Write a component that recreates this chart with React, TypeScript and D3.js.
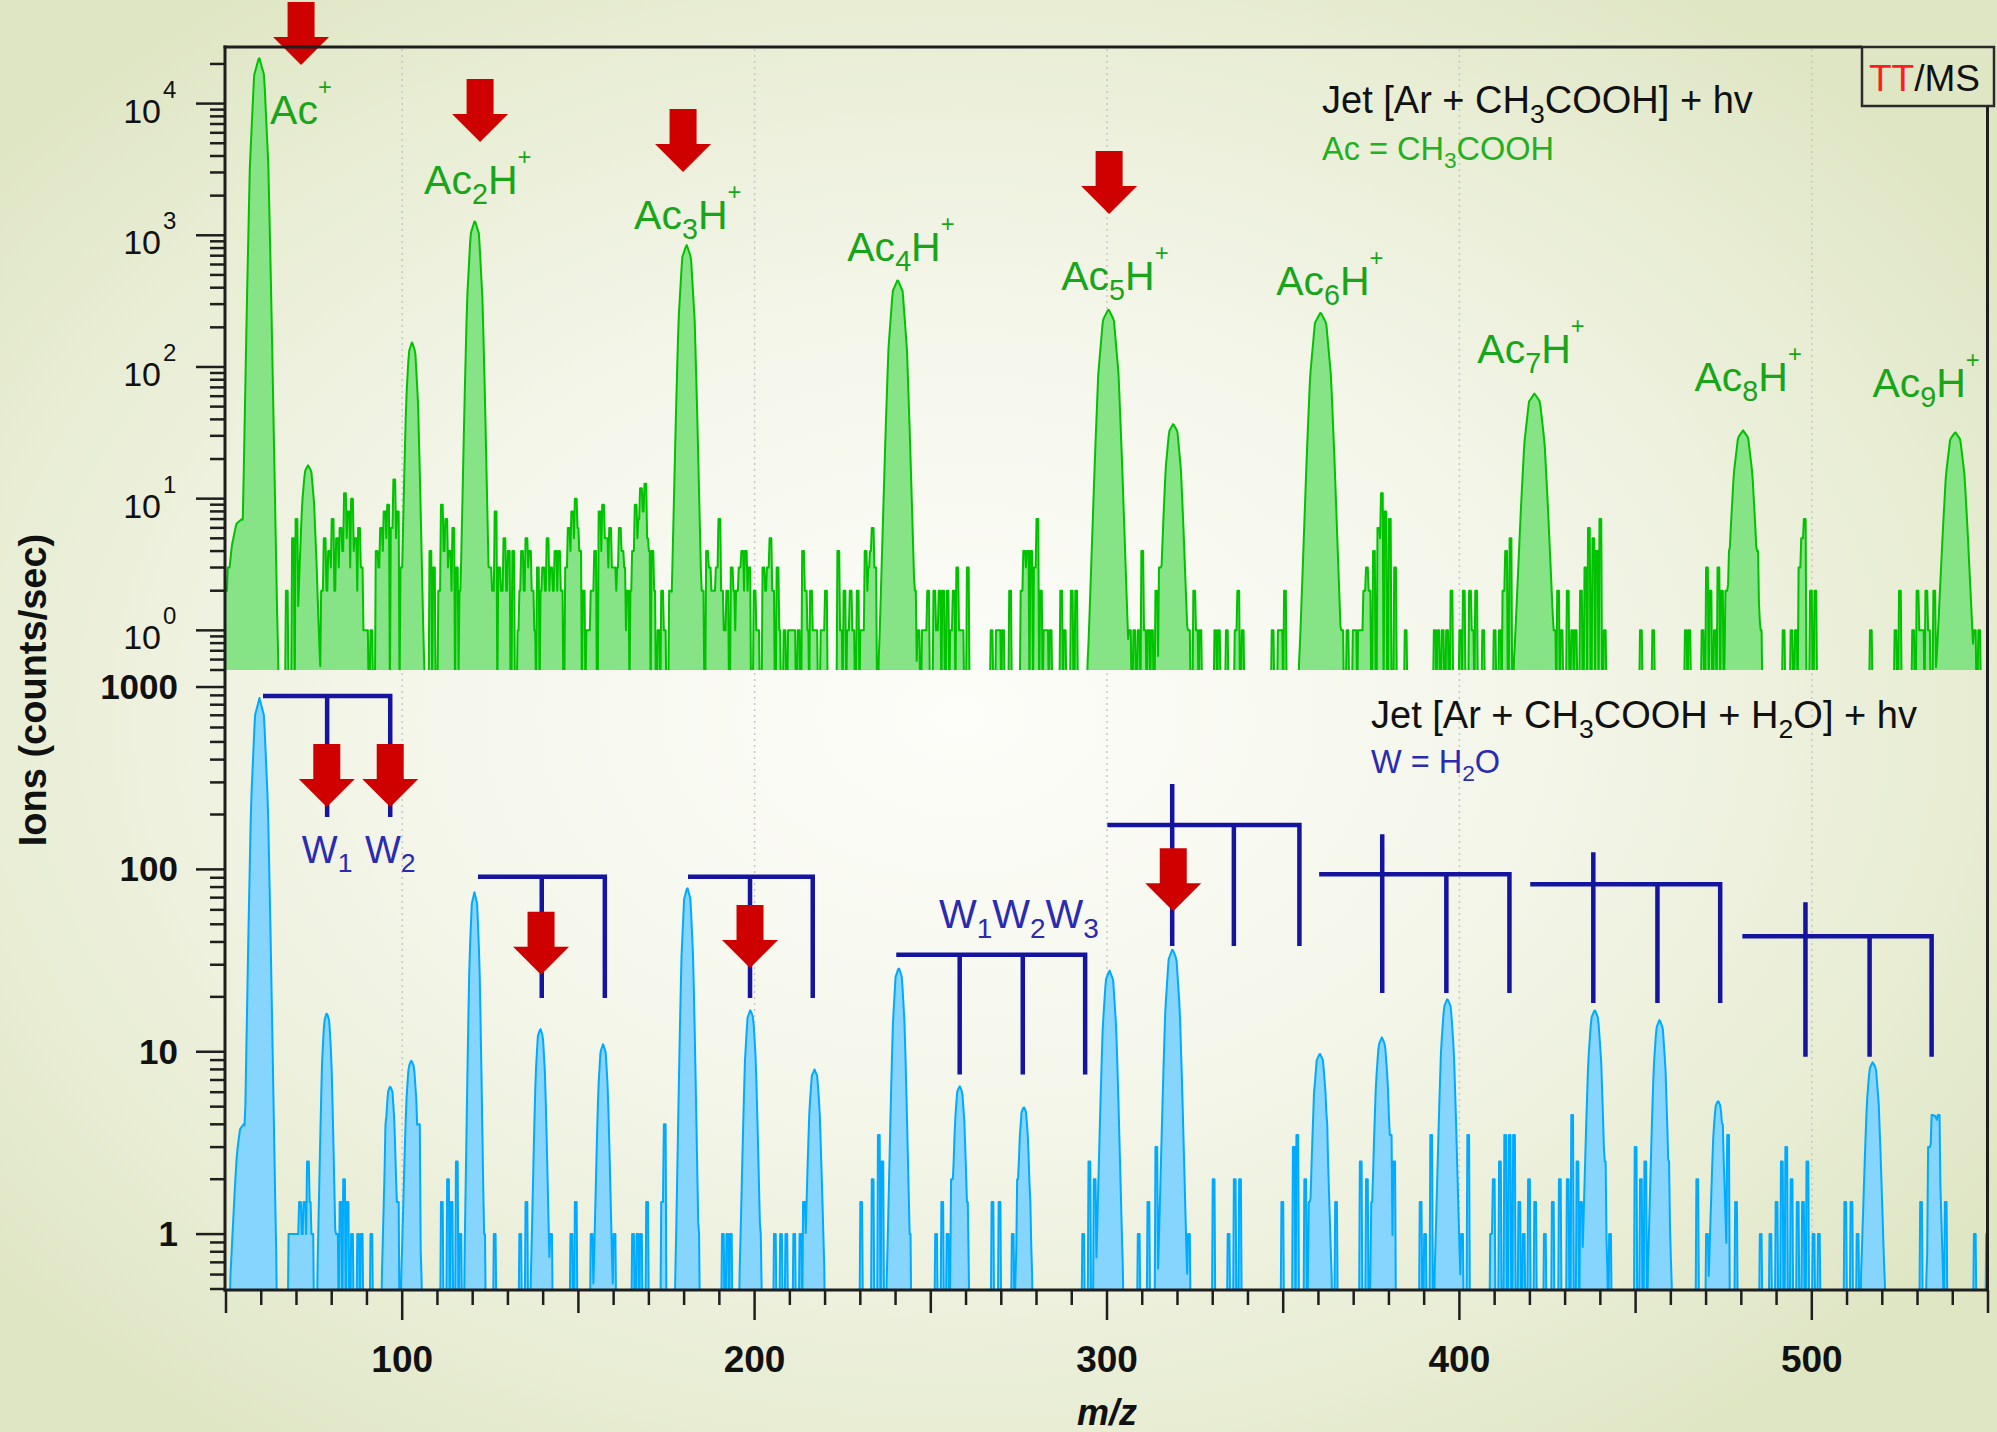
import React from "react";
import * as d3 from "d3";

const WIDTH = 1997;
const HEIGHT = 1432;
const FONT = "'Liberation Sans', Arial, Helvetica, sans-serif";

const mzDomain = [50, 550];
const mzLabelTicks = [100, 200, 300, 400, 500];
const topDecades = [1, 10, 100, 1000, 10000];
const topDecadeExp = ["0", "1", "2", "3", "4"];
const bottomDecades = [1, 10, 100, 1000];
const bottomDecadeLabels = ["1", "10", "100", "1000"];

const peakShapeOffset = [0, 0.26, 0.48, 0.63, 0.76, 0.93, 1];
const peakShapeLevel = [1, 0.97, 0.82, 0.6, 0.38, 0.09, 0];

// Jet [Ar + CH3COOH] + hv : [m/z, counts/sec, half width]
const greenPeaks = [
  [54.5, 7, 6], [59.4, 22600, 5.5], [73.3, 18, 3.5], [102.8, 155, 3.5], [120.6, 1300, 4.6],
  [180.7, 850, 4.8], [240.6, 460, 5.5], [300.4, 275, 6], [318.8, 37, 4.5],
  [360.6, 260, 6.2], [421.3, 63, 6], [480.5, 33, 5.5], [540.7, 32, 5.5],
];
const greenNoise = [
  [50.3, 2], [50.8, 3], [67.3, 2], [68.9, 5], [70.0, 7], [75.4, 3],
  [77.3, 2], [77.8, 1], [78.1, 5], [78.7, 2], [79.2, 4], [79.8, 3], [80.3, 7], [80.9, 2], [81.4, 5], [82.0, 3],
  [82.5, 6], [83.2, 4], [83.8, 11], [84.2, 5], [84.7, 8], [85.3, 3], [85.8, 10], [86.3, 4], [86.8, 5], [87.2, 2],
  [87.7, 6], [88.5, 3], [89.2, 1], [90.1, 1], [91.2, 1],
  [92.8, 4], [93.4, 3], [93.9, 6], [94.5, 4], [95.0, 8], [95.6, 5], [96.1, 9], [96.9, 6], [97.7, 14], [98.2, 5],
  [98.8, 8], [99.7, 3], [108.0, 4], [109.1, 3], [110.5, 2],
  [111.3, 9], [111.9, 4], [112.4, 7], [113.0, 3], [113.5, 4], [114.1, 2], [114.6, 6], [115.6, 3], [116.5, 2],
  [124.9, 3], [125.7, 2], [126.5, 8], [127.6, 3], [128.2, 2], [129.0, 5], [129.7, 2], [130.3, 4], [131.4, 4],
  [133.0, 1], [133.6, 2], [134.1, 4], [134.7, 2], [135.2, 5], [135.8, 3], [136.3, 4], [136.9, 2], [137.4, 1], [138.5, 3],
  [139.5, 2], [140.1, 3], [140.7, 2], [141.2, 5], [141.8, 2], [142.3, 3], [142.9, 2], [143.4, 4], [143.9, 2], [144.5, 4],
  [145.3, 2], [146.5, 3], [147.2, 6], [147.8, 4], [148.3, 8], [148.8, 5], [149.3, 10], [149.8, 6], [150.4, 4], [151.5, 2],
  [152.6, 1], [153.2, 1], [153.7, 2], [154.3, 2], [154.8, 4],
  [155.9, 8], [156.4, 4], [157.0, 9], [157.5, 5], [158.0, 5], [158.6, 3], [159.1, 6], [159.6, 3], [160.2, 3], [160.8, 2],
  [161.3, 3], [161.8, 6], [162.4, 4], [162.9, 3], [163.5, 1], [164.0, 2],
  [165.0, 2], [165.6, 4], [166.2, 9], [166.8, 5], [167.2, 7], [167.8, 12], [168.3, 8], [168.9, 13], [169.5, 5], [170.0, 4],
  [171.1, 4], [171.6, 2], [172.7, 1], [173.8, 2], [174.5, 1], [176.0, 2],
  [185.2, 2], [186.6, 4], [187.2, 3], [188.0, 2], [188.5, 2], [189.2, 3], [189.9, 7], [190.8, 2], [191.6, 1],
  [192.3, 2], [193.4, 3], [193.9, 2], [194.3, 1], [195.0, 2], [195.8, 3], [196.6, 4], [197.0, 2], [197.5, 4], [198.0, 2],
  [198.6, 3], [199.9, 2], [200.5, 1], [201.0, 1],
  [202.6, 3], [203.2, 2], [203.7, 3], [204.0, 1], [204.5, 5], [205.3, 2], [206.4, 3], [207.1, 1],
  [208.6, 1], [209.7, 1], [210.4, 1], [211.3, 1], [212.4, 1], [213.7, 4], [214.6, 2], [215.1, 1], [215.9, 2], [216.8, 1],
  [217.5, 1], [218.9, 1], [219.5, 1], [220.3, 2],
  [223.8, 4], [224.6, 1], [225.4, 2], [226.5, 1], [227.3, 2], [228.1, 1], [229.2, 2], [230.3, 1], [231.0, 1], [231.4, 4],
  [232.0, 2], [232.5, 3], [233.0, 4], [233.5, 6], [234.2, 3],
  [245.5, 2], [246.6, 1], [247.7, 1], [248.5, 1], [249.3, 2], [250.9, 2], [251.7, 1], [252.5, 2], [253.6, 2], [254.7, 2],
  [255.8, 1], [256.6, 2], [257.4, 3], [258.2, 1], [259.1, 1], [260.5, 3],
  [267.2, 1], [268.8, 1], [269.6, 1], [270.5, 1], [272.4, 2],
  [275.8, 2], [276.5, 4], [277.0, 3], [277.5, 4], [278.6, 4], [279.4, 3], [280.3, 7], [281.3, 2], [282.2, 1], [283.0, 1], [284.0, 1],
  [287.0, 2], [288.0, 1], [290.0, 2], [291.3, 2],
  [306.5, 1], [307.7, 1], [309.0, 1], [309.9, 4], [310.8, 1], [311.8, 1], [312.8, 1], [313.9, 2], [315.0, 3], [316.0, 1],
  [322.1, 1], [323.2, 1], [324.8, 2], [325.6, 1], [326.4, 1],
  [330.7, 1], [331.8, 1], [334.0, 1], [336.5, 1], [337.3, 2], [338.4, 1],
  [347.1, 1], [348.7, 1], [349.5, 1], [350.6, 2],
  [365.5, 2], [366.8, 1], [368.2, 1], [369.9, 1], [370.6, 1], [371.5, 1], [372.3, 1], [373.1, 2], [373.7, 3], [374.5, 2],
  [375.8, 4], [376.9, 6], [377.4, 5], [378.0, 11], [379.1, 8], [380.2, 7], [381.8, 3], [384.8, 1],
  [393.0, 1], [394.0, 1], [395.2, 1], [396.6, 1], [397.7, 2],
  [400.2, 1], [401.2, 2], [402.9, 2], [403.8, 1], [404.7, 2], [406.7, 1],
  [410.0, 1], [411.6, 1], [412.5, 2], [413.3, 4], [414.4, 5],
  [425.9, 1], [426.9, 1], [428.0, 2], [429.1, 1], [430.8, 2],
  [432.0, 1], [433.0, 1], [434.6, 2], [435.7, 3], [436.8, 6], [437.9, 5], [439.0, 4], [440.1, 7], [441.2, 1],
  [451.6, 1], [454.9, 1],
  [464.2, 1], [465.3, 1], [469.1, 1], [470.2, 3], [471.3, 2], [472.4, 1], [473.5, 3], [474.6, 2], [475.7, 2], [476.8, 4],
  [477.5, 3], [484.5, 4], [485.6, 1],
  [492.1, 1], [494.3, 1], [495.4, 1], [496.5, 3], [497.3, 5], [498.1, 7], [499.8, 2], [500.9, 2],
  [516.7, 1], [523.7, 1], [524.9, 2], [528.8, 1], [529.9, 2], [530.7, 1], [531.5, 1], [532.4, 2], [533.2, 1], [534.8, 2],
  [544.7, 2], [546.3, 1], [547.4, 1],
];

// Jet [Ar + CH3COOH + H2O] + hv
const bluePeaks = [
  [55, 4, 4], [59.5, 870, 5], [78.6, 16.4, 2.8], [96.6, 6.5, 2.5], [102.6, 9, 3], [120.5, 75, 3],
  [139.2, 13.4, 2.8], [157.0, 11, 2.8], [180.9, 80, 3.5], [198.8, 17, 3.2], [217.0, 8, 3],
  [240.9, 29, 3.5], [258.2, 6.5, 2.8], [276.4, 5, 2.5], [300.7, 28, 4], [318.6, 36.6, 4.3],
  [360.4, 9.8, 3.5], [378.0, 12, 3.5], [396.6, 19.6, 3.8], [438.4, 17, 3.8], [456.8, 15, 3.5],
  [473.4, 5.4, 2.8], [517.3, 8.8, 3.5], [534.9, 4.5, 2.5],
];
const blueNoise = [
  [67.9, 1], [68.4, 1], [69.0, 1], [69.5, 1], [70.0, 1], [70.5, 1], [71.1, 1.5], [71.6, 1], [72.2, 1.5], [72.7, 1],
  [73.3, 2.5], [73.8, 1.5], [74.4, 1],
  [81.4, 1], [82.5, 1.5], [83.6, 2], [84.4, 1.5], [85.8, 1], [87.4, 1], [88.5, 1], [91.2, 1],
  [95.6, 4], [97.7, 2.5], [98.8, 1.5], [101.0, 2.5], [104.8, 4],
  [111.3, 1.5], [112.9, 2], [114.0, 1.5], [115.4, 2.5], [116.5, 1],
  [123.3, 1], [126.3, 1], [133.6, 1], [135.2, 1.5], [142.3, 1], [148.0, 1], [149.3, 1.5], [153.7, 1], [160.2, 1],
  [165.6, 1], [166.7, 1], [167.8, 1], [169.4, 1.5], [173.8, 1.5], [174.5, 4], [184.1, 1],
  [191.1, 1], [192.2, 1], [193.3, 1], [201.5, 1],
  [205.8, 1], [207.4, 1], [209.1, 1], [211.2, 1], [212.9, 1], [214.0, 1.5],
  [230.3, 1.5], [233.5, 2], [235.2, 3.5], [236.3, 2.5], [243.9, 1],
  [251.5, 1], [253.3, 1.5], [254.7, 1], [256.1, 2], [260.2, 1.5],
  [267.4, 1.5], [269.6, 1.5], [273.2, 1], [274.8, 2], [278.1, 1.5],
  [293.3, 1], [294.9, 2.5], [296.5, 2],
  [309.0, 1], [311.7, 1.5], [313.9, 3], [321.5, 3], [323.2, 1],
  [330.2, 2], [334.6, 1], [336.2, 2], [337.8, 2],
  [349.8, 1.5], [353.0, 3], [354.1, 3.5], [356.3, 2], [357.4, 1.5], [359.0, 6], [362.3, 4], [365.0, 1.5],
  [372.0, 2.5], [373.7, 2], [375.3, 1.5],
  [380.4, 3.5], [381.5, 2.5], [388.9, 1.5], [390.2, 1], [391.9, 3.5], [400.7, 1], [402.6, 3.5],
  [408.9, 1], [409.8, 2], [411.6, 2.5], [413.0, 3.5], [414.3, 3.5], [415.4, 3.5], [417.1, 1.5], [418.2, 1],
  [419.8, 2], [421.5, 1.5], [424.2, 1], [426.4, 1.5],
  [428.6, 2], [430.8, 2], [431.9, 4.5], [433.5, 2.5], [434.6, 1.5],
  [441.2, 2.5], [442.8, 1], [449.9, 3], [451.6, 2], [452.7, 2.5], [459.3, 2.5], [467.5, 2], [470.2, 1],
  [474.6, 4], [476.2, 3.5], [478.4, 1.5],
  [485.5, 1], [488.3, 1], [489.9, 1.5], [491.6, 2.5], [492.7, 3], [494.3, 2], [496.0, 1.5], [497.6, 1.5], [498.7, 2.5],
  [500.4, 1], [502.0, 1],
  [509.6, 1.5], [511.3, 1.5], [512.9, 1], [519.5, 2],
  [531.0, 1.5], [533.2, 3], [534.3, 4.5], [535.9, 4.5], [538.1, 1.5],
  [546.3, 1], [549.8, 1],
];

// Ac_nH+ labels in the top panel: cluster size, left m/z, baseline value
const acLabelN = ["", "2", "3", "4", "5", "6", "7", "8", "9"];
const acLabelMz = [62.5, 106.2, 165.8, 226.3, 287.0, 348.0, 405.1, 466.7, 517.2];
const acLabelValue = [7000, 2060, 1117, 639, 384, 352, 107, 65.7, 59.2];

// red arrows: m/z and value of the arrow tip
const topArrowMz = [71.3, 122.1, 179.7, 300.6];
const topArrowTip = [19640, 5115, 3025, 1452];
const bottomArrowMz = [78.6, 96.6, 139.4, 198.7, 318.8];
const bottomArrowTip = [220, 220, 26.4, 28.8, 59];

// water-addition combs in the bottom panel
const combStart = [60.5, 121.5, 181.1, 240.2, 300.1, 360.2, 420.1, 480.3];
const combTicks = [
  [78.7, 96.6], [139.6, 157.5], [198.7, 216.5], [258.2, 276.1, 293.8],
  [318.5, 336.0, 354.6], [378.1, 396.3, 414.2], [438.0, 456.2, 474.0], [498.2, 516.4, 534.0],
];
const combLevel = [893, 91, 91, 34, 175, 94, 83, 43];
const combEnd = [194, 19.7, 19.7, 7.5, 38, 21, 18.5, 9.4];
const combCrossTop = [0, 0, 0, 0, 294, 156, 124, 66];

const GREEN_LINE = "#00c200";
const GREEN_FILL = "#86e386";
const BLUE_LINE = "#00aaff";
const BLUE_FILL = "#86d5ff";
const NAVY = "#14149e";
const LABEL_GREEN = "#19a519";
const LABEL_BLUE = "#2b2bb0";
const RED = "#cf0000";

const STEP = 0.25;
const FLOOR = 0.3;
const shape = d3.scaleLinear().domain(peakShapeOffset).range(peakShapeLevel).clamp(true);

function buildSpectrum(peaks: number[][], noise: number[][]) {
  const n = Math.round((mzDomain[1] - mzDomain[0]) / STEP) + 1;
  const vals: number[] = new Array(n).fill(FLOOR);
  peaks.forEach(([c, h, w]) => {
    const i0 = Math.max(0, Math.floor((c - w - mzDomain[0]) / STEP));
    const i1 = Math.min(n - 1, Math.ceil((c + w - mzDomain[0]) / STEP));
    for (let i = i0; i <= i1; i++) {
      const d = Math.abs(mzDomain[0] + i * STEP - c) / w;
      if (d >= 1) continue;
      const v = 0.5 * Math.pow(h / 0.5, shape(d));
      if (v > vals[i]) vals[i] = v;
    }
  });
  // each count reading is a short flat bar of about half a mass unit
  noise.forEach(([m, v]) => {
    const c = Math.round((m - mzDomain[0]) / STEP);
    for (let i = c - 1; i <= c + 1; i++) {
      if (i >= 0 && i < n && v > vals[i]) vals[i] = v;
    }
  });
  return vals.map((v, i) => ({ mz: mzDomain[0] + i * STEP, v }));
}

type Part = [string, string?];

function Formula(props: { x: number; y: number; parts: Part[]; size: number; fill: string; anchor?: string; weight?: string }) {
  const { x, y, parts, size, fill, anchor = "start", weight = "normal" } = props;
  let shift = 0;
  const spans = parts.map(([t, kind], i) => {
    const target = kind === "sub" ? size * 0.25 : kind === "sup" ? -size * 0.7 : 0;
    const dy = target - shift;
    shift = target;
    const fs = kind === "sub" ? size * 0.7 : kind === "sup" ? size * 0.58 : size;
    return (
      <tspan key={i} dy={dy} fontSize={fs}>
        {t}
      </tspan>
    );
  });
  return (
    <text x={x} y={y} fontSize={size} fill={fill} textAnchor={anchor as any} fontWeight={weight} fontFamily={FONT}>
      {spans}
    </text>
  );
}

function arrowPath(cx: number, tip: number) {
  const len = 63, head = 28, shaft = 13.5, hw = 28;
  return `M${cx - shaft},${tip - len}H${cx + shaft}V${tip - head}H${cx + hw}L${cx},${tip}L${cx - hw},${tip - head}H${cx - shaft}Z`;
}

export default function App() {
  const x = d3.scaleLinear().domain(mzDomain).range([226, 1988]);
  const yTop = d3.scaleLog().domain([0.5, 26900]).range([670, 47]);
  const yBot = d3.scaleLog().domain([0.5, 1240]).range([1289, 670]);

  const green = buildSpectrum(greenPeaks, greenNoise);
  const blue = buildSpectrum(bluePeaks, blueNoise);

  const topArea = d3.area<{ mz: number; v: number }>().x((d) => x(d.mz)).y0(670).y1((d) => yTop(d.v));
  const topLine = d3.line<{ mz: number; v: number }>().x((d) => x(d.mz)).y((d) => yTop(d.v));
  const botArea = d3.area<{ mz: number; v: number }>().x((d) => x(d.mz)).y0(1289).y1((d) => yBot(d.v));
  const botLine = d3.line<{ mz: number; v: number }>().x((d) => x(d.mz)).y((d) => yBot(d.v));

  const xTicks = d3.range(50, 551, 10);

  const minorTicks = (scale: d3.ScaleLogarithmic<number, number>, lo: number, hi: number) => {
    const out: { v: number; major: boolean }[] = [];
    for (let e = -1; e <= 4; e++) {
      for (let k = 1; k <= 9; k++) {
        const v = k * Math.pow(10, e);
        if (v >= lo - 1e-9 && v <= hi) out.push({ v, major: k === 1 });
      }
    }
    return out.map((t) => ({ ...t, y: scale(t.v) }));
  };
  const topYTicks = minorTicks(yTop, 0.5, 26900);
  const botYTicks = minorTicks(yBot, 0.5, 1000);

  return (
    <svg width={WIDTH} height={HEIGHT} style={{ position: "absolute", left: 0, top: 0, display: "block" }} fontFamily={FONT}>
      <defs>
        <radialGradient id="bg" cx="48%" cy="50%" r="62%">
          <stop offset="0" stopColor="#fdfdf9" />
          <stop offset="0.45" stopColor="#f4f6ea" />
          <stop offset="0.8" stopColor="#e8edd4" />
          <stop offset="1" stopColor="#dfe6c4" />
        </radialGradient>
        <clipPath id="clipTop">
          <rect x={226} y={47} width={1762} height={623} />
        </clipPath>
        <clipPath id="clipBot">
          <rect x={226} y={670} width={1762} height={619} />
        </clipPath>
      </defs>
      <rect x={0} y={0} width={WIDTH} height={HEIGHT} fill="url(#bg)" />

      {/* dotted grid */}
      {mzLabelTicks.map((m) => (
        <line key={"g" + m} x1={x(m)} x2={x(m)} y1={49} y2={1288} stroke="#c4c4c4" strokeWidth={1.4} strokeDasharray="2 4" />
      ))}

      {/* spectra */}
      <g clipPath="url(#clipTop)">
        <path d={topArea(green) || ""} fill={GREEN_FILL} />
        <path d={topLine(green) || ""} fill="none" stroke={GREEN_LINE} strokeWidth={2} strokeLinejoin="round" />
      </g>
      <g clipPath="url(#clipBot)">
        <path d={botArea(blue) || ""} fill={BLUE_FILL} />
        <path d={botLine(blue) || ""} fill="none" stroke={BLUE_LINE} strokeWidth={2} strokeLinejoin="round" />
      </g>

      {/* water combs */}
      {combStart.map((s, i) => {
        const yl = yBot(combLevel[i]);
        const ye = yBot(combEnd[i]);
        const ticks = combTicks[i];
        const last = ticks[ticks.length - 1];
        let d = `M${x(s)},${yl}H${x(last)}V${ye}`;
        ticks.slice(0, -1).forEach((t, j) => {
          const top = j === 0 && combCrossTop[i] ? yBot(combCrossTop[i]) : yl;
          d += `M${x(t)},${top}V${ye}`;
        });
        return <path key={"c" + i} d={d} fill="none" stroke={NAVY} strokeWidth={4.5} strokeLinejoin="miter" />;
      })}

      {/* arrows */}
      {topArrowMz.map((m, i) => (
        <path key={"ta" + i} d={arrowPath(x(m), yTop(topArrowTip[i]))} fill={RED} />
      ))}
      {bottomArrowMz.map((m, i) => (
        <path key={"ba" + i} d={arrowPath(x(m), yBot(bottomArrowTip[i]))} fill={RED} />
      ))}

      {/* axes frame */}
      <g stroke="#1e1e1e" fill="none">
        <line x1={225} x2={225} y1={45.5} y2={1291.5} strokeWidth={3} />
        <line x1={223.5} x2={1862} y1={47} y2={47} strokeWidth={3} />
        <line x1={223.5} x2={1989} y1={1290} y2={1290} strokeWidth={3} />
        <line x1={1987.5} x2={1987.5} y1={106} y2={1291.5} strokeWidth={3} />
      </g>
      <rect x={1862} y={47} width={132} height={59} fill="none" stroke="#2a2a2a" strokeWidth={2.5} />
      <text x={1869} y={91} fontSize={37} fontFamily={FONT}>
        <tspan fill="#ff1c1c">TT</tspan>
        <tspan fill="#111">/MS</tspan>
      </text>

      {/* x ticks */}
      {xTicks.map((m) => {
        const len = m % 100 === 0 ? 30 : m % 50 === 0 ? 23 : 15;
        return <line key={"xt" + m} x1={x(m)} x2={x(m)} y1={1290} y2={1290 + len} stroke="#1e1e1e" strokeWidth={2.5} />;
      })}
      {mzLabelTicks.map((m) => (
        <text key={"xl" + m} x={x(m)} y={1372} textAnchor="middle" fontSize={37} fontWeight="bold" fill="#111">
          {m}
        </text>
      ))}
      <text x={x(300)} y={1425} textAnchor="middle" fontSize={36} fontWeight="bold" fontStyle="italic" fill="#111">
        m/z
      </text>

      {/* y ticks */}
      {topYTicks.map((t, i) => (
        <line key={"yt" + i} x1={t.major ? 196 : 210} x2={225} y1={t.y} y2={t.y} stroke="#1e1e1e" strokeWidth={2.5} />
      ))}
      {botYTicks.map((t, i) => (
        <line key={"yb" + i} x1={t.major ? 196 : 210} x2={225} y1={t.y} y2={t.y} stroke="#1e1e1e" strokeWidth={2.5} />
      ))}
      {topDecades.map((v, i) => (
        <g key={"tl" + i} fill="#111">
          <text x={161} y={yTop(v) + 19} textAnchor="end" fontSize={34}>
            10
          </text>
          <text x={163} y={yTop(v) - 6} fontSize={24}>
            {topDecadeExp[i]}
          </text>
        </g>
      ))}
      {bottomDecades.map((v, i) => (
        <text key={"bl" + i} x={178} y={yBot(v) + 12} textAnchor="end" fontSize={35} fontWeight="bold" fill="#111">
          {bottomDecadeLabels[i]}
        </text>
      ))}
      <text transform="translate(46,690) rotate(-90)" textAnchor="middle" fontSize={38} fontWeight="bold" fill="#111">
        Ions (counts/sec)
      </text>

      {/* peak labels */}
      {acLabelN.map((n, i) => (
        <Formula
          key={"al" + i}
          x={x(acLabelMz[i])}
          y={yTop(acLabelValue[i])}
          size={41}
          fill={LABEL_GREEN}
          parts={n ? [["Ac"], [n, "sub"], ["H"], ["+", "sup"]] : [["Ac"], ["+", "sup"]]}
        />
      ))}

      {/* W labels */}
      <Formula x={x(78.7)} y={yBot(108.5)} size={38} fill={LABEL_BLUE} anchor="middle" parts={[["W"], ["1", "sub"]]} />
      <Formula x={x(96.6)} y={yBot(108.5)} size={38} fill={LABEL_BLUE} anchor="middle" parts={[["W"], ["2", "sub"]]} />
      <Formula
        x={x(275)}
        y={yBot(47.7)}
        size={40}
        fill={LABEL_BLUE}
        anchor="middle"
        parts={[["W"], ["1", "sub"], ["W"], ["2", "sub"], ["W"], ["3", "sub"]]}
      />

      {/* panel captions */}
      <Formula x={1322} y={113} size={38} fill="#111" parts={[["Jet [Ar + CH"], ["3", "sub"], ["COOH] + hv"]]} />
      <Formula x={1322} y={160} size={32.5} fill="#22b022" parts={[["Ac = CH"], ["3", "sub"], ["COOH"]]} />
      <Formula
        x={1371}
        y={728}
        size={38}
        fill="#111"
        parts={[["Jet [Ar + CH"], ["3", "sub"], ["COOH + H"], ["2", "sub"], ["O] + hv"]]}
      />
      <Formula x={1371} y={773} size={32.5} fill={LABEL_BLUE} parts={[["W = H"], ["2", "sub"], ["O"]]} />
    </svg>
  );
}
